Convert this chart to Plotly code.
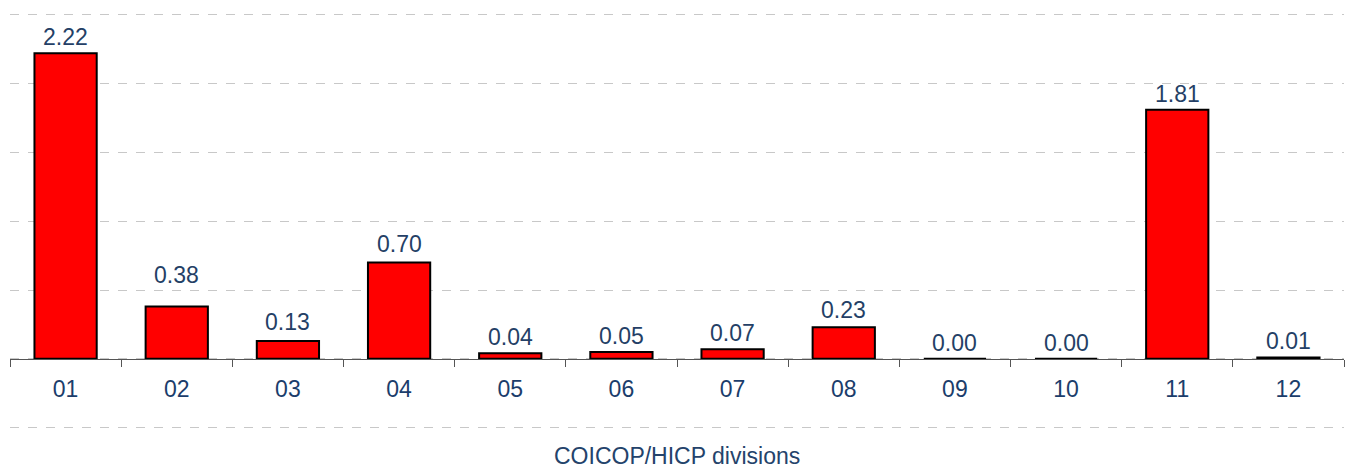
import plotly.graph_objects as go

categories = ["01", "02", "03", "04", "05", "06", "07", "08", "09", "10", "11", "12"]
values = [2.22, 0.38, 0.13, 0.70, 0.04, 0.05, 0.07, 0.23, 0.00, 0.00, 1.81, 0.01]
x_title = "COICOP/HICP divisions"

# extra vertical lift (px) for individual value labels, as placed in the reference
label_lift = [0, 16, 3, 2, 0, 0, 0, 1, 0, 0, 0, 0]

y_min, y_max = -0.51, 2.52
zero_pos = (0 - y_min) / (y_max - y_min)

text_color = "#1b3d6b"
label_color = "#243f66"
font_family = "Liberation Sans, Arial, sans-serif"

fig = go.Figure(go.Bar(
    x=categories,
    y=values,
    marker=dict(color="#ff0000", line=dict(color="#000000", width=2)),
    cliponaxis=False,
))

# on a category axis, annotation x is the category's index in the axis order
annotations = [
    dict(
        x=i, y=v, xref="x", yref="y", text=f"{v:.2f}",
        xanchor="center", yanchor="bottom", yshift=2 + lift,
        showarrow=False, borderpad=0,
        font=dict(size=23, color=label_color, family=font_family),
    )
    for i, (v, lift) in enumerate(zip(values, label_lift))
]
annotations.append(dict(
    text=x_title, x=0.5, y=0, xref="paper", yref="paper",
    xanchor="center", yanchor="top", yshift=-13, showarrow=False,
    borderpad=0,
    font=dict(size=23, color="#24436b"),
))

fig.update_layout(
    template="none",
    width=1346, height=470,
    margin=dict(l=10, r=2, t=12, b=41, autoexpand=False),
    paper_bgcolor="white", plot_bgcolor="white",
    bargap=0.44,
    showlegend=False,
    font=dict(family=font_family, color=text_color),
    xaxis=dict(
        type="category",
        categoryorder="array", categoryarray=categories,
        range=[-0.5, len(categories) - 0.5],
        anchor="free", position=zero_pos,
        automargin=False,
        showline=True, linecolor="#555555", linewidth=1,
        ticks="outside", tickson="boundaries", ticklen=7, tickcolor="#555555", tickwidth=1,
        ticklabelstandoff=10,
        showgrid=False, zeroline=False,
        tickfont=dict(size=23, color=text_color),
    ),
    yaxis=dict(
        range=[y_min, y_max],
        automargin=False,
        dtick=0.5, tick0=0,
        showticklabels=False,
        showgrid=True, gridcolor="#c8c8c8", gridwidth=1, griddash="dash",
        zeroline=False, showline=False, ticks="",
    ),
    annotations=annotations,
)

fig.write_html("out.html", config={"displayModeBar": False},
               post_script="document.body.style.margin='0';")
